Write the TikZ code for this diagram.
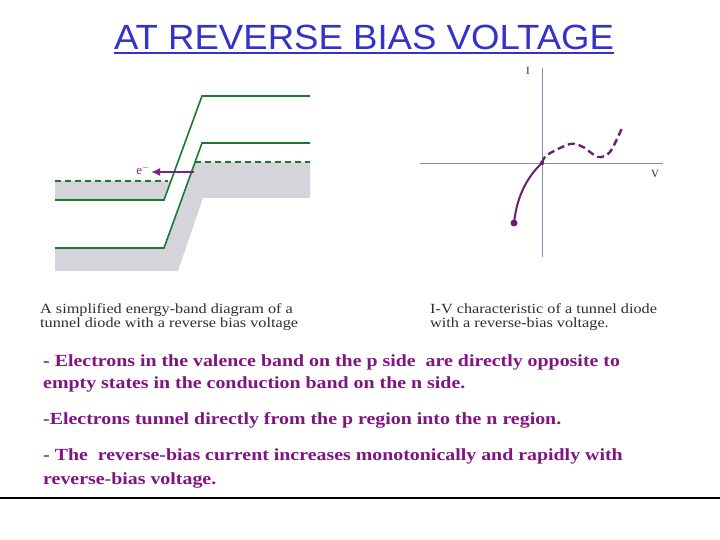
\documentclass[tikz,border=0pt]{standalone}
\usepackage{fontspec}
\setmainfont{Liberation Serif}
\newfontfamily\titlefont[FakeStretch=1.045]{Liberation Sans}
\newfontfamily\bodyfont[FakeStretch=1.17]{Liberation Serif}
\newfontfamily\capfont[FakeStretch=1.16]{Liberation Serif}
\usetikzlibrary{arrows.meta,calc}
\definecolor{titleblue}{RGB}{51,51,204}
\definecolor{textpurple}{RGB}{128,20,128}
\definecolor{bandgreen}{RGB}{30,120,50}
\definecolor{bandgray}{RGB}{212,212,218}
\definecolor{curvepurple}{RGB}{110,30,110}
\definecolor{arrowpurple}{RGB}{125,35,135}
\definecolor{axisblue}{RGB}{130,140,175}
\definecolor{captiongray}{RGB}{45,45,45}

\begin{document}
\begin{tikzpicture}[x=1pt,y=-1pt,
        band/.style={color=bandgreen, line width=1.6pt},
        fermi/.style={band, dash pattern=on 6pt off 4pt},
        axis/.style={color=axisblue, line width=0.9pt},
        curve/.style={color=curvepurple, line width=2pt},
        bodytext/.style={anchor=base west, inner sep=0pt, text=textpurple, font=\bodyfont\bfseries\fontsize{17}{20}\selectfont},
        caption/.style={anchor=base west, inner sep=0pt, text=captiongray, font=\capfont\fontsize{14}{16}\selectfont}]
        \useasboundingbox (0,0) rectangle (720,540);

        \node[anchor=base, inner sep=0pt, text=titleblue, font=\titlefont\fontsize{35}{40}\selectfont] (title) at (364,50) {AT REVERSE BIAS VOLTAGE};
        \draw [titleblue, line width=2pt] ($(title.base west)+(0,3)$) -- ($(title.base east)+(0,3)$);

        % energy bands
        \fill [bandgray] (55,181) -- (171,181) -- (164,200) -- (55,200) -- cycle;
        \fill [bandgray] (55,248) -- (164,248) -- (195,162) -- (310,162) -- (310,198) -- (203,198) -- (178,271) -- (55,271) -- cycle;
        \draw [band] (55,200) -- (164,200) -- (202,96) -- (310,96);
        \draw [band] (55,248) -- (164,248) -- (202,143) -- (310,143);
        \draw [fermi] (55,181) -- (168,181);
        \draw [fermi] (195,162) -- (310,162);
        \coordinate (tunnel) at (194,172);
        \node [anchor=east, inner sep=1pt, text=arrowpurple, font=\fontsize{13}{14}\selectfont] (elec) at (151,170) {e$^-$};
        \draw [-{Latex[length=9pt,width=8pt]}, arrowpurple, line width=1.5pt] (tunnel) -- (tunnel -| elec.east);

        % I-V characteristic
        \coordinate (O) at (542,163);
        \draw [axis] (542,68) -- (542,257);
        \draw [axis] (420,163) -- (663,163);
        \node [text=captiongray, font=\fontsize{11}{12}\selectfont] (I) at (528,71) {I};
        \node [text=captiongray, font=\fontsize{11}{12}\selectfont] (V) at (655,174) {V};
        \draw [curve] (O) .. controls (528,176) and (517,195) .. (514,223);
        \fill [curvepurple] (514,223) circle (3.5pt);
        \fill [curvepurple] (O) circle (2.2pt);
        \draw [curve, line width=2.4pt, dash pattern=on 7pt off 4pt] plot[smooth] coordinates {(542,163) (547,155) (570,144) (583,147) (598,157) (610,152) (622,128)};

        \node [caption] (capl1) at (40,313) {A simplified energy-band diagram of a};
        \node [caption] (capl2) at (40,327) {tunnel diode with a reverse bias voltage};
        \node [caption] (capr1) at (430,313) {I-V characteristic of a tunnel diode};
        \node [caption] (capr2) at (430,327) {with a reverse-bias voltage.};

        \node [bodytext] (line1) at (43,366) {- Electrons in the valence band on the p side\ \ are directly opposite to};
        \node [bodytext] (line2) at (43,388) {empty states in the conduction band on the n side.};
        \node [bodytext] (line3) at (43,424) {-Electrons tunnel directly from the p region into the n region.};
        \node [bodytext] (line4) at (43,460) {- The\ \ reverse-bias current increases monotonically and rapidly with};
        \node [bodytext] (line5) at (43,484) {reverse-bias voltage.};

        \draw [line width=1.3pt] (0,498) -- (720,498);
\end{tikzpicture}
\end{document}
